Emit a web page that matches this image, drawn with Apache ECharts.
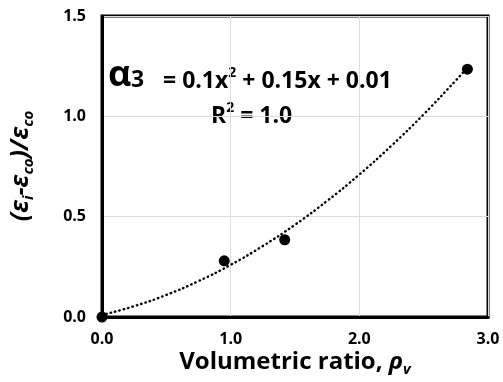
<!DOCTYPE html>
<html><head><meta charset="utf-8">
<script src="https://cdn.jsdelivr.net/npm/echarts@6/dist/echarts.min.js"></script>
<style>html,body{margin:0;padding:0;background:#fff}#c{width:503px;height:382px}</style>
</head><body><div id="c"></div>
<script>
// measured points
const xValues = [0, 0.95, 1.42, 2.84];
const yValues = [0, 0.28, 0.385, 1.235];
// trendline (y = 0.1x^2 + 0.15x + 0.01)
const trendX = [0, 0.25, 0.5, 0.75, 1.0, 1.25, 1.5, 1.75, 2.0, 2.25, 2.5, 2.75, 2.84];
const trendY = [0.01, 0.054, 0.11, 0.179, 0.26, 0.354, 0.46, 0.579, 0.71, 0.854, 1.01, 1.179, 1.243];
const xTicks = [0, 1, 2, 3];
const yTicks = [0, 0.5, 1.0, 1.5];

const FONT = 'Open Sans';
const chart = echarts.init(document.getElementById('c'), null, {renderer: 'canvas'});
chart.setOption({
  animation: false,
  backgroundColor: '#fff',
  grid: {left: 102, right: 15, top: 16, bottom: 65, show: true, borderColor: '#000', borderWidth: 3, containLabel: false},
  xAxis: {
    type: 'value', min: xTicks[0], max: xTicks[xTicks.length - 1], interval: 1,
    axisLine: {show: true, lineStyle: {color: '#000', width: 3}},
    axisTick: {show: false},
    splitLine: {show: true, lineStyle: {color: '#dcdcdc', width: 1}},
    axisLabel: {margin: 14, fontFamily: FONT, fontWeight: 'bold', fontSize: 16, color: '#000',
      formatter: v => v.toFixed(1)}
  },
  yAxis: {
    type: 'value', min: yTicks[0], max: yTicks[yTicks.length - 1], interval: 0.5,
    axisLine: {show: true, lineStyle: {color: '#000', width: 3}},
    axisTick: {show: false},
    splitLine: {show: true, lineStyle: {color: '#dcdcdc', width: 1}},
    axisLabel: {margin: 16, fontFamily: FONT, fontWeight: 'bold', fontSize: 16, color: '#000',
      formatter: v => v.toFixed(1)}
  },
  series: [
    {
      type: 'line', data: trendX.map((x, i) => [x, trendY[i]]), smooth: true, symbol: 'none',
      lineStyle: {color: '#000', width: 2.4, type: [0.5, 4], cap: 'round'}, z: 2
    },
    {
      type: 'scatter', data: xValues.map((x, i) => [x, yValues[i]]), symbol: 'circle', symbolSize: 11,
      itemStyle: {color: '#000', opacity: 1}, z: 3, clip: false
    }
  ],
  graphic: [
    {type: 'text', x: 21, y: 166, rotation: Math.PI / 2, style: {
      text: '(ε{s|i}-ε{s|co})/ε{s|co}', align: 'center', verticalAlign: 'middle',
      font: 'italic bold 25px "' + FONT + '"', fill: '#000',
      rich: {s: {fontSize: 15, fontStyle: 'italic', fontWeight: 'bold', fontFamily: FONT, verticalAlign: 'bottom', lineHeight: 30, fill: '#000'}}
    }},
    {type: 'text', x: 295, y: 362, style: {
      text: 'Volumetric ratio, {r|ρ}{s|v}', align: 'center', verticalAlign: 'middle',
      font: 'bold 24px "' + FONT + '"', fill: '#000',
      rich: {r: {fontSize: 24, fontStyle: 'italic', fontWeight: 'bold', fontFamily: FONT, fill: '#000'},
             s: {fontSize: 15, fontStyle: 'italic', fontWeight: 'bold', fontFamily: FONT, verticalAlign: 'bottom', lineHeight: 30, fill: '#000'}}
    }},
    {type: 'text', x: 108, y: 76, style: {
      text: 'α', align: 'left', verticalAlign: 'middle', fill: '#000',
      font: 'bold 36px "' + FONT + '"'
    }},
    {type: 'text', x: 131, y: 80, style: {
      text: '3', align: 'left', verticalAlign: 'middle', fill: '#000',
      font: 'bold 23px "' + FONT + '"'
    }},
    {type: 'text', x: 163, y: 81, style: {
      text: '= 0.1x{p|2} + 0.15x + 0.01', align: 'left', verticalAlign: 'middle',
      font: 'bold 23px "' + FONT + '"', fill: '#000',
      rich: {p: {fontSize: 14, fontWeight: 'bold', fontFamily: FONT, verticalAlign: 'top', lineHeight: 30, fill: '#000'}}
    }},
    {type: 'text', x: 211, y: 116, style: {
      text: 'R{p|2} = 1.0', align: 'left', verticalAlign: 'middle',
      font: 'bold 23px "' + FONT + '"', fill: '#000',
      rich: {p: {fontSize: 14, fontWeight: 'bold', fontFamily: FONT, verticalAlign: 'top', lineHeight: 30, fill: '#000'}}
    }}
  ]
});
</script></body></html>
